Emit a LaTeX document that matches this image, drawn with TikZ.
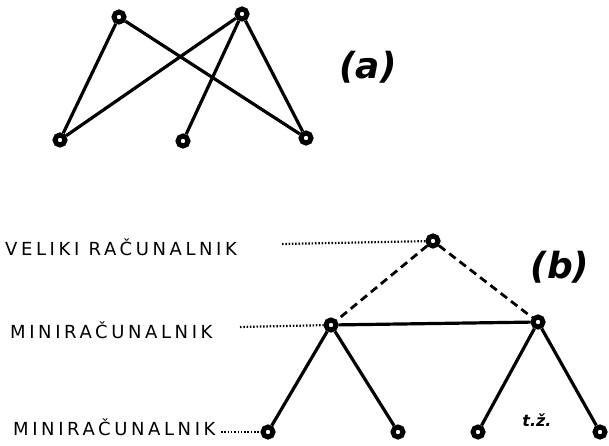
\documentclass[tikz,border=0pt]{standalone}
\usepackage{fontspec}
\newfontfamily\hand[LetterSpace=20]{DejaVu Sans}
\newfontfamily\handlbl{DejaVu Sans}
\begin{document}
\begin{tikzpicture}[x=1pt,y=-1pt,
  vert/.style={circle,draw=black,fill=white,line width=5pt,minimum size=10pt,inner sep=0pt},
  edge/.style={line width=3.2pt},
  dashedge/.style={line width=2.8pt,dash pattern=on 8pt off 5pt},
  dotline/.style={line width=2.2pt,dash pattern=on 1.5pt off 1.8pt},
  lab/.style={font=\hand\fontsize{18}{20}\selectfont,inner sep=0pt,anchor=base west},
  tag/.style={font=\handlbl\bfseries\itshape\fontsize{36}{38}\selectfont,inner sep=0pt}]
\useasboundingbox (0,0) rectangle (609,446);
% (a)
\node[vert] (t1) at (119,17) {};
\node[vert] (t2) at (242,14) {};
\node[vert] (b1) at (60,140) {};
\node[vert] (b2) at (183,141) {};
\node[vert] (b3) at (306,138) {};
\draw[edge] (t1) -- (b1);
\draw[edge] (t1) -- (b3);
\draw[edge] (t2) -- (b1);
\draw[edge] (t2) -- (b2);
\draw[edge] (t2) -- (b3);
\node[tag] (la) at (368,67) {(a)};
% (b)
\node[vert] (r) at (433,241) {};
\node[vert] (m1) at (331,325) {};
\node[vert] (m2) at (538,322) {};
\node[vert] (l1) at (268,432) {};
\node[vert] (l2) at (398,432) {};
\node[vert] (l3) at (478,432) {};
\node[vert] (l4) at (600,432) {};
\draw[dashedge] (r) -- (m1);
\draw[dashedge] (r) -- (m2);
\draw[edge] (m1) -- (m2);
\draw[edge] (m1) -- (l1);
\draw[edge] (m1) -- (l2);
\draw[edge] (m2) -- (l3);
\draw[edge] (m2) -- (l4);
\node[tag] (lb) at (560,267) {(b)};
\node[font=\handlbl\bfseries\itshape\fontsize{16}{17}\selectfont,inner sep=0pt] (tz) at (537,420) {t.ž.};
% labels
\node[lab] (v) at (5,255) {VELIKI RAČUNALNIK};
\node[lab] (mm) at (10,338) {MINIRAČUNALNIK};
\node[lab] (mb) at (13,435) {MINIRAČUNALNIK};
\coordinate (vs) at (282,244);
\coordinate (ms) at (240,327);
\coordinate (bs) at (221,432);
\draw[dotline] (vs) -- (r);
\draw[dotline] (ms) -- (m1);
\draw[dotline] (bs) -- (l1);
\end{tikzpicture}
\end{document}
